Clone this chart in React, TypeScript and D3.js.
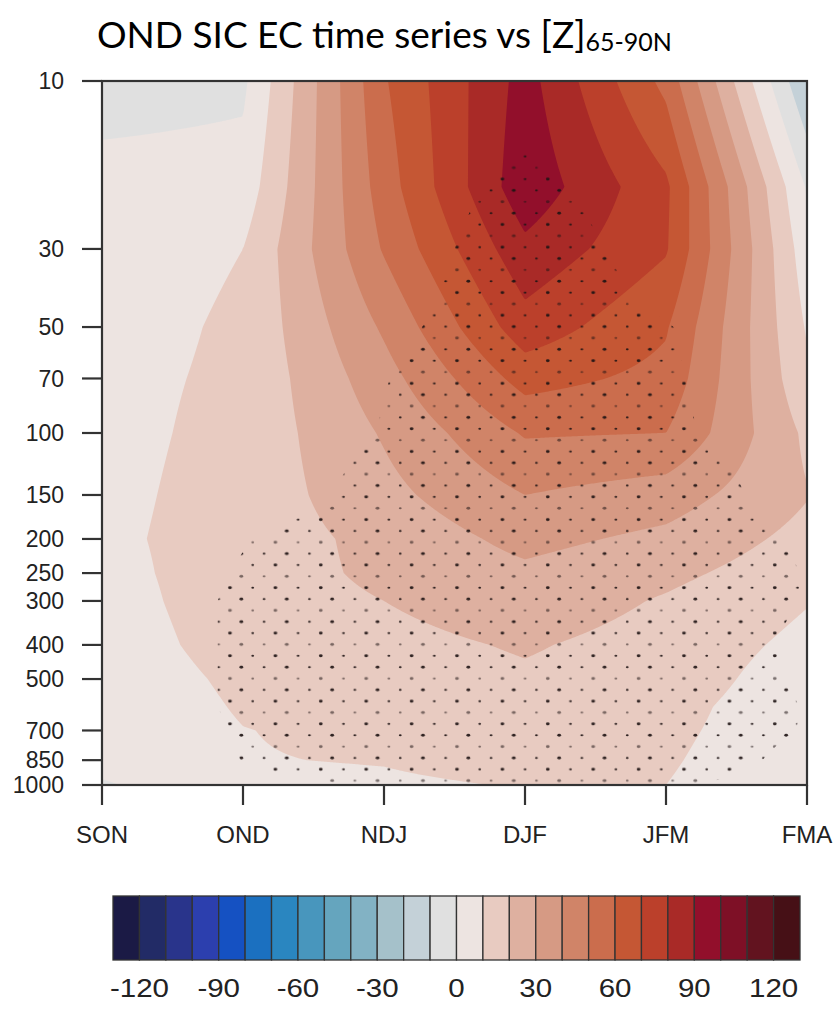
import React, { useMemo } from "react";
import * as d3 from "d3";

// ---------- data ----------
const seasons = ["SON", "OND", "NDJ", "DJF", "JFM", "FMA"];
const levels = [10, 20, 30, 50, 70, 100, 150, 200, 250, 300, 400, 500, 600, 700, 850, 925, 1000];
const pressureTicks = [10, 30, 50, 70, 100, 150, 200, 250, 300, 400, 500, 700, 850, 1000];

// regression of [Z] 65-90N on OND SIC EC time series (m), one array per season, values per level
const zSON = [-5, 4, 5, 6, 7, 7, 7.5, 8, 7, 6, 5, 4, 3, 3, 2, 1, -1];
const zOND = [-2, 4, 10, 11.6, 12, 13, 13.9, 14.3, 15, 15.2, 14, 12, 10.9, 9.8, 9.6, 8.5, 7];
const zNDJ = [59, 55, 51, 41.5, 36, 31, 27, 23, 22, 20, 17, 15, 14, 12, 10.5, 9.5, 8.5];
const zDJF = [94, 97, 87.5, 76, 64, 51, 40, 33, 28, 26, 21, 18.5, 17, 15, 13.5, 12, 10.5];
const zJFM = [57, 72, 71, 61, 57, 50, 35, 27.5, 22.5, 19, 16, 15, 13, 12, 11, 10.5, 10];
const zFMA = [-20, -1, 4, 9, 12, 18, 20.5, 17, 14, 10.5, 7.5, 5, 4, 4, 3, 2.5, 2];

// significance (>= 0.5 means significant, stippled)
const sigSON = [0, 0, 0, 0, 0, 0, 0, 0, 0, 0, 0, 0, 0, 0, 0, 0, 0];
const sigOND = [0, 0, 0, 0, 0, 0, 0, 0.47, 0.55, 0.61, 0.61, 0.61, 0.61, 0.55, 0.51, 0.35, 0];
const sigNDJ = [0, 0, 0, 0.315, 0.48, 0.53, 0.79, 1, 1, 1, 1, 1, 1, 1, 1, 1, 0.66];
const sigDJF = [0.25, 0.7, 1, 1, 1, 1, 1, 1, 1, 1, 1, 1, 1, 1, 1, 1, 1];
const sigJFM = [0, 0, 0.12, 0.53, 0.58, 0.64, 1.14, 1, 1, 1, 1, 1, 1, 1, 1, 0.98, 0.64];
const sigFMA = [0, 0, 0, 0, 0, 0, 0, 0.42, 0.47, 0.47, 0.35, 0.42, 0.47, 0.46, 0.27, 0, 0];

const contourLevels = d3.range(-120, 121, 10);
const colorbarLabels = [-120, -90, -60, -30, 0, 30, 60, 90, 120];
const colors = [
  "#1b1a45", "#222b66", "#29348b", "#2c3fae", "#1551c2", "#1b70c0", "#2a86c0",
  "#4896bd", "#65a5be", "#82b2c4", "#a5c1ca", "#c4d1d8", "#e0e0e0", "#ede4e1",
  "#e8cbc1", "#deb0a0", "#d69a84", "#d08468", "#cb6d4d", "#c55734", "#bb402b",
  "#a92a27", "#920f2b", "#7e1026", "#62131f", "#461016",
];

const zColumns = [zSON, zOND, zNDJ, zDJF, zJFM, zFMA];
const sigColumns = [sigSON, sigOND, sigNDJ, sigDJF, sigJFM, sigFMA];

// ---------- layout ----------
const W = 838, H = 1010;
const X0 = 102, X1 = 807, Y0 = 81, Y1 = 785;
const CB_X0 = 113, CB_X1 = 800, CB_Y0 = 896, CB_Y1 = 960;
const NX = 470, NY = 470;

export default function App() {
  const xScale = d3.scaleLinear().domain([0, seasons.length - 1]).range([X0, X1]);
  const yScale = d3.scaleLog().domain([10, 1000]).range([Y0, Y1]);
  const ly = levels.map((l) => yScale(l));

  const { fills, stip } = useMemo(() => {
    const sx = (X1 - X0) / NX;
    const sy = (Y1 - Y0) / NY;
    const sampleGrid = (cols: number[][]) => {
      const out = new Float64Array(NX * NY);
      const n = cols.length;
      for (let j = 0; j < NY; j++) {
        const py = Y0 + (j + 0.5) * sy;
        let k = 0;
        while (k < levels.length - 2 && ly[k + 1] < py) k++;
        let fv = (py - ly[k]) / (ly[k + 1] - ly[k]);
        fv = Math.max(0, Math.min(1, fv));
        for (let i = 0; i < NX; i++) {
          const px = X0 + (i + 0.5) * sx;
          let u = xScale.invert(px);
          u = Math.max(0, Math.min(n - 1, u));
          const c = Math.min(Math.floor(u), n - 2);
          const fu = u - c;
          const a = cols[c][k], b = cols[c + 1][k];
          const cc = cols[c][k + 1], d = cols[c + 1][k + 1];
          out[j * NX + i] = (a * (1 - fu) + b * fu) * (1 - fv) + (cc * (1 - fu) + d * fu) * fv;
        }
      }
      return out;
    };
    const proj = d3.geoTransform({
      point: function (this: any, px: number, py: number) {
        this.stream.point(X0 + px * sx, Y0 + py * sy);
      },
    });
    const path = d3.geoPath(proj as any);
    const zGrid = sampleGrid(zColumns);
    const cs = d3.contours().size([NX, NY]).thresholds(contourLevels)(Array.from(zGrid));
    const fills = cs.map((c, i) => ({ d: path(c as any) || "", color: colors[i + 1] }));
    const sGrid = sampleGrid(sigColumns);
    const sc = d3.contours().size([NX, NY]).thresholds([0.5])(Array.from(sGrid));
    const stip = path(sc[0] as any) || "";
    return { fills, stip };
  }, []);

  const cbScale = d3.scaleLinear().domain([-130, 130]).range([CB_X0, CB_X1]);
  const boxes = colors.map((c, i) => ({ c, a: cbScale(-130 + 10 * i), b: cbScale(-120 + 10 * i) }));

  // stipple tile: staggered rows, alternating dot weight, three-row shading cycle
  const dx = 11.35, dy = 11.35;
  const tileW = dx * 4, tileH = dy * 6;
  const dots: { x: number; y: number; r: number; o: number }[] = [];
  for (let k = 0; k < 6; k++) {
    for (let m = 0; m < 2; m++) {
      dots.push({
        x: dx / 2 + (k % 2) * dx + m * 2 * dx,
        y: dy / 2 + k * dy,
        r: m === 0 ? 1.9 : 1.4,
        o: k % 3 === 1 ? 0.55 : 0.92,
      });
    }
  }

  const font = "'Liberation Sans', Arial, Helvetica, sans-serif";

  return (
    <svg width={W} height={H} style={{ position: "absolute", left: 0, top: 0, background: "#fff" }}
      xmlns="http://www.w3.org/2000/svg">
      <defs>
        <pattern id="stipple" patternUnits="userSpaceOnUse" width={tileW} height={tileH}
          x={230 - dx / 2} y={565 - dy / 2}>
          {dots.map((d, i) => (
            <ellipse key={i} cx={d.x} cy={d.y} rx={d.r} ry={d.r * 0.75} fill="#1e1414" opacity={d.o} />
          ))}
        </pattern>
        <clipPath id="plotClip">
          <rect x={X0} y={Y0} width={X1 - X0} height={Y1 - Y0} />
        </clipPath>
      </defs>

      {/* title */}
      <text x={97} y={48} fontFamily="Lato, 'Open Sans', sans-serif" fontSize={37} fill="#000">
        OND SIC EC time series vs [Z]
        <tspan fontSize={25} dy={3}>65-90N</tspan>
      </text>

      {/* filled contours */}
      <g clipPath="url(#plotClip)">
        <rect x={X0} y={Y0} width={X1 - X0} height={Y1 - Y0} fill={colors[0]} />
        {fills.map((f, i) => (
          <path key={i} d={f.d} fill={f.color} stroke="none" />
        ))}
        <path d={stip} fill="url(#stipple)" />
      </g>

      {/* frame */}
      <rect x={X0} y={Y0} width={X1 - X0} height={Y1 - Y0} fill="none" stroke="#333" strokeWidth={2.2} />

      {/* y axis */}
      {pressureTicks.map((p) => (
        <g key={p}>
          <line x1={X0 - 20} x2={X0} y1={yScale(p)} y2={yScale(p)} stroke="#333" strokeWidth={2.2} />
          <text x={64} y={yScale(p)} dy="0.36em" textAnchor="end" fontFamily={font} fontSize={23} fill="#222">
            {p}
          </text>
        </g>
      ))}

      {/* x axis */}
      {seasons.map((s, i) => (
        <g key={s}>
          <line x1={xScale(i)} x2={xScale(i)} y1={Y1} y2={Y1 + 20} stroke="#333" strokeWidth={2.2} />
          <text x={xScale(i)} y={834} dy="0.36em" textAnchor="middle" fontFamily={font} fontSize={24} fill="#222">
            {s}
          </text>
        </g>
      ))}

      {/* colorbar */}
      {boxes.map((b, i) => (
        <rect key={i} x={b.a} y={CB_Y0} width={b.b - b.a} height={CB_Y1 - CB_Y0} fill={b.c}
          stroke="#333" strokeWidth={1.3} />
      ))}
      {colorbarLabels.map((v) => (
        <text key={v} transform={`translate(${cbScale(v)},${988}) scale(1.18,1)`} dy="0.36em"
          textAnchor="middle" fontFamily={font} fontSize={25} fill="#222">
          {v}
        </text>
      ))}
    </svg>
  );
}
